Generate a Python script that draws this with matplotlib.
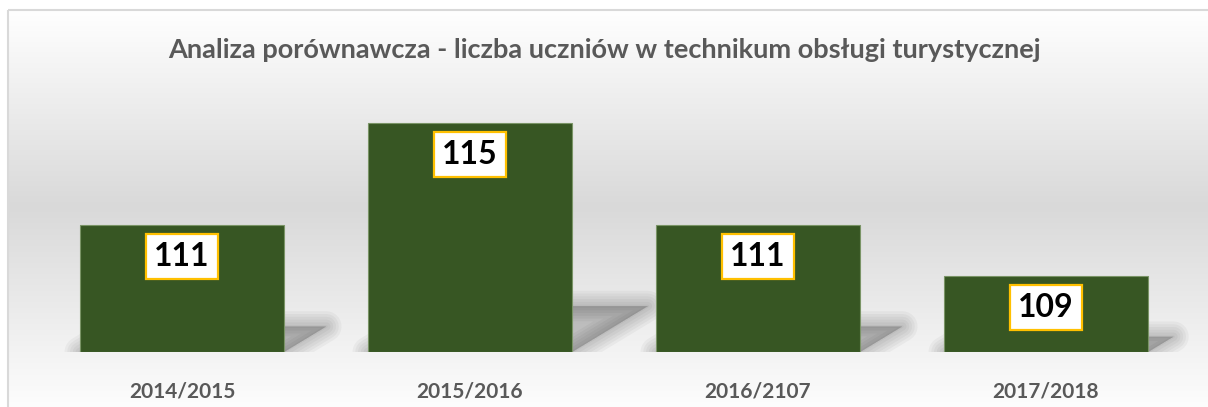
import numpy as np
import matplotlib
matplotlib.use("Agg")
import matplotlib.pyplot as plt
from matplotlib.patches import Rectangle
from matplotlib.transforms import Affine2D
from matplotlib.colors import LinearSegmentedColormap

# data
years = ["2014/2015", "2015/2016", "2016/2107", "2017/2018"]
students = [111, 115, 111, 109]
title = "Analiza porównawcza - liczba uczniów w technikum obsługi turystycznej"

plt.rcParams['font.family'] = ['Lato', 'DejaVu Sans']

W, H = 1208, 407
fig = plt.figure(figsize=(W / 100, H / 100), dpi=100)

# background: gradient white -> gray -> white, with light border
bg = fig.add_axes([0, 0, 1, 1])
bg.axis('off')
cmap = LinearSegmentedColormap.from_list(
    'bg', [(0, '#ffffff'), (0.48, '#d9d9d9'), (1, '#ffffff')])
grad = np.linspace(0, 1, 256).reshape(-1, 1)
bg.imshow(grad, cmap=cmap, extent=(8, W + 20, 420, 10), aspect='auto', zorder=0)
bg.add_patch(Rectangle((8, 10), W + 20, 420, fill=False, edgecolor='#d9d9d9',
                       linewidth=1.5, zorder=1))
bg.set_xlim(0, W)
bg.set_ylim(H, 0)

# main chart
ymin, ymax = 106, 116
ax = fig.add_axes([38 / W, 55 / H, 1152 / W, 255 / H])
ax.set_facecolor('none')
ax.set_xlim(-0.5, len(years) - 0.5)
ax.set_ylim(ymin, ymax)
for s in ax.spines.values():
    s.set_visible(False)
ax.set_yticks([])
x = np.arange(len(years))
ax.set_xticks(x)
ax.set_xticklabels(years, fontsize=15, fontweight='bold', color='#595959')
ax.tick_params(axis='x', length=0, pad=21)

bar_w = 0.71
bottoms = [ymin] * len(students)
heights = [v - ymin for v in students]
ax.bar(x, heights, bottom=bottoms, width=bar_w, color='#375623',
       edgecolor='#7a9466', linewidth=0.8, zorder=3)

# blurred perspective shadow behind the bars
y0 = ax.transData.transform((0, ymin))[1]
skew = Affine2D.from_values(1, 0, 0.33, 0.2, -0.33 * y0, 0.8 * y0)
for xi, v in zip(x, students):
    for lw in [22, 18, 14, 10, 6, 2]:
        p = Rectangle((xi - bar_w / 2, ymin), bar_w, v - ymin,
                      transform=ax.transData + skew,
                      facecolor=(0, 0, 0, 0.035), edgecolor=(0, 0, 0, 0.035),
                      linewidth=lw, joinstyle='round', zorder=2)
        ax.add_patch(p)

# value labels
for xi, v in zip(x, students):
    ax.annotate(str(v), (xi, v), xytext=(0, -23), textcoords='offset points',
                ha='center', va='center', fontsize=23, fontweight='bold',
                color='black', zorder=5,
                bbox=dict(boxstyle='square,pad=0.25', facecolor='white',
                          edgecolor='#ffc000', linewidth=1.6))

fig.text(0.5, 1 - 50 / H, title, ha='center', va='center', fontsize=19.5,
         fontweight='bold', color='#595959')

fig.savefig('out.png', dpi=100)
